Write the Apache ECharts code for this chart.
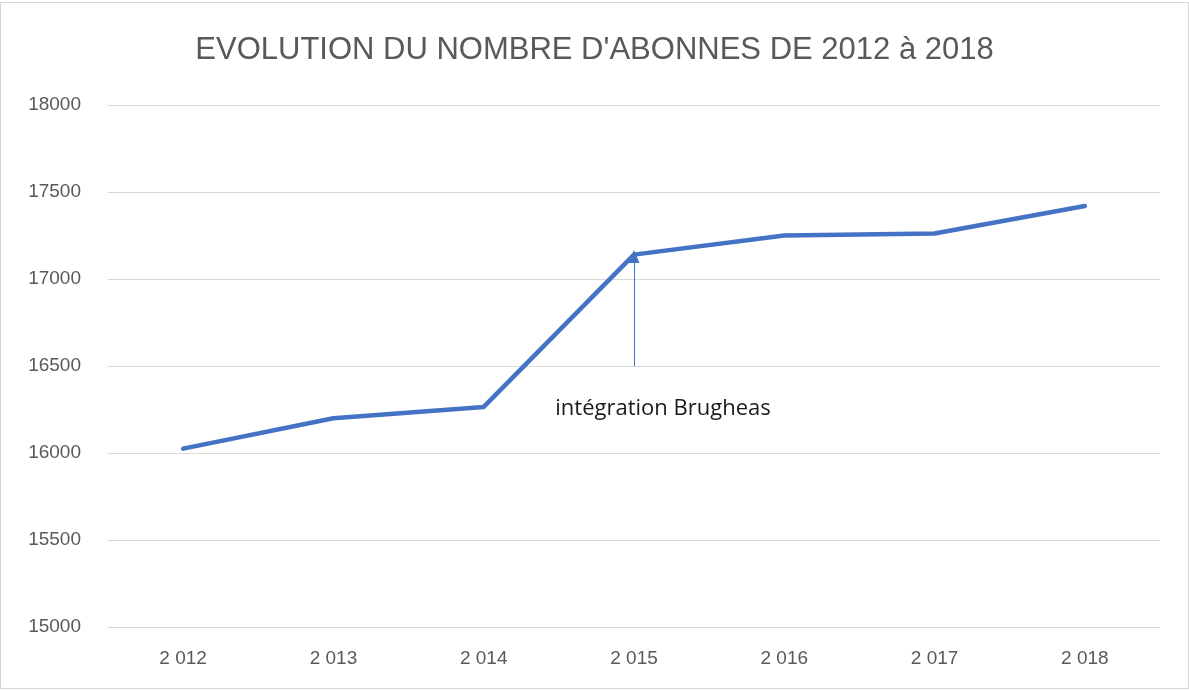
<!DOCTYPE html>
<html>
<head>
<meta charset="utf-8">
<script src="https://cdn.jsdelivr.net/npm/echarts@6/dist/echarts.min.js"></script>
<style>
  html, body { margin: 0; padding: 0; background: #fff; }
  #chart { position: absolute; left: 0; top: 2px; width: 1187px; height: 685px; border: 1px solid #d6d6d6; }
</style>
</head>
<body>
<div id="chart"></div>
<script>
var years = ['2 012', '2 013', '2 014', '2 015', '2 016', '2 017', '2 018'];
var abonnes = [16025, 16200, 16265, 17140, 17250, 17262, 17420];
var yTicks = { min: 15000, max: 18000, step: 500 };
// annotation: arrow tail value and text position
var noteYear = '2 015';
var arrowFrom = 16500;
var arrowTo = 17130;
var noteText = 'intégration Brugheas';
var noteValue = 16255;

var chart = echarts.init(document.getElementById('chart'));
var option = {
  animation: false,
  title: {
    text: "EVOLUTION DU NOMBRE D'ABONNES DE 2012 à 2018",
    left: 'center',
    top: 27,
    textStyle: { fontFamily: 'Liberation Sans', fontSize: 31, fontWeight: 'normal', color: '#595959' }
  },
  grid: { left: 107, right: 28, top: 102, bottom: 61 },
  xAxis: {
    type: 'category',
    data: years,
    boundaryGap: true,
    axisLine: { show: false },
    axisTick: { show: false },
    axisLabel: { color: '#595959', fontFamily: 'Liberation Sans', fontSize: 19, margin: 22 }
  },
  yAxis: {
    type: 'value',
    min: yTicks.min,
    max: yTicks.max,
    interval: yTicks.step,
    axisLine: { show: false },
    axisTick: { show: false },
    splitLine: { lineStyle: { color: '#d9d9d9', width: 1 } },
    axisLabel: {
      color: '#595959', fontFamily: 'Liberation Sans', fontSize: 19, margin: 27,
      formatter: function (v) { return String(v); }
    }
  },
  series: [{
    type: 'line',
    data: abonnes,
    showSymbol: false,
    symbol: 'none',
    lineStyle: { color: '#4472c4', width: 4.5, cap: 'round', join: 'round' },
    markLine: {
      silent: true,
      symbol: ['none', 'triangle'],
      symbolSize: [11, 13],
      label: { show: false },
      lineStyle: { color: '#4472c4', width: 1, type: 'solid' },
      data: [[
        { coord: [noteYear, arrowFrom] },
        { coord: [noteYear, arrowTo] }
      ]]
    },
    markPoint: {
      silent: true,
      symbol: 'circle',
      symbolSize: 0,
      label: {
        show: true,
        position: 'inside',
        offset: [29, 0],
        formatter: noteText,
        color: '#1a1a1a',
        fontFamily: 'Open Sans',
        fontSize: 22
      },
      data: [{ coord: [noteYear, noteValue] }]
    }
  }]
};
chart.setOption(option);
</script>
</body>
</html>
